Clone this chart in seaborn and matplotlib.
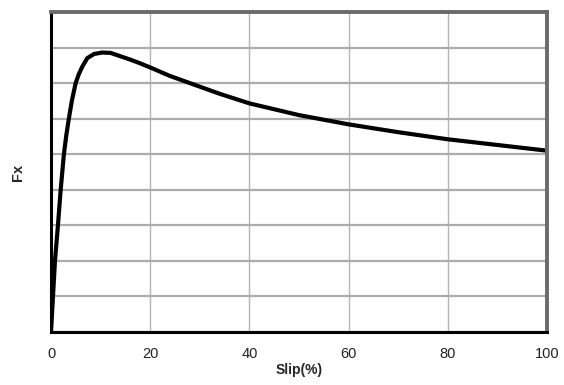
import matplotlib
matplotlib.use("Agg")
import matplotlib.pyplot as plt
import seaborn as sns
import pandas as pd

slip = [0, 0.4, 0.8, 1.4, 1.95, 2.6, 3.1, 3.6, 4.2, 4.97, 5.6, 6.3, 7.3, 8.7, 10.3, 12, 13.9,
        16, 17.9, 20, 24, 28, 34, 40, 50, 60, 70, 80, 90, 100]
fx = [0, 1, 2, 3, 4, 5, 5.55, 6.0, 6.5, 7.0, 7.25, 7.46, 7.7, 7.82, 7.86, 7.85, 7.76,
      7.66, 7.56, 7.44, 7.2, 7.0, 6.7, 6.43, 6.1, 5.84, 5.62, 5.42, 5.26, 5.1]
x_ticks = [0, 20, 40, 60, 80, 100]
y_ticks = list(range(0, 10))

sns.set_style("white")
plt.rcParams['font.family'] = ['Liberation Sans', 'DejaVu Sans']

df = pd.DataFrame({"Slip(%)": slip, "Fx": fx})

fig = plt.figure(figsize=(5.64, 3.85), dpi=100)
ax = fig.add_axes([51/564, 1-332/385, (547-51)/564, (332-12)/385])

for v in x_ticks:
    ax.axvline(v, color="#b4b4b4", lw=1.0, zorder=1)
for v in y_ticks:
    ax.axhline(v, color="#acacac", lw=1.6, zorder=1)

sns.lineplot(data=df, x="Slip(%)", y="Fx", ax=ax, color="black", lw=3.0, zorder=3,
             solid_joinstyle="round", solid_capstyle="round")

ax.set_xlim(0, 100)
ax.set_ylim(0, 9)
ax.set_xticks(x_ticks)
ax.set_yticks(y_ticks)
ax.set_yticklabels([])
ax.tick_params(axis="x", direction="inout", length=6, width=1.5, color="black",
               labelsize=10.5, pad=8, labelcolor="#222222")
ax.tick_params(axis="y", direction="inout", length=8, width=1.5, color="black")

for s in ["left", "bottom"]:
    ax.spines[s].set_color("black")
    ax.spines[s].set_linewidth(2.2)
    ax.spines[s].set_zorder(4)
for s in ["top", "right"]:
    ax.spines[s].set_color("#6a6a6a")
    ax.spines[s].set_linewidth(2.8)
    ax.spines[s].set_zorder(4)

ax.set_xlabel("Slip(%)", fontsize=10, fontweight="bold", labelpad=1)
ax.set_ylabel("Fx", fontsize=10.5, fontweight="bold", labelpad=11)

fig.savefig("out.png", dpi=100)
